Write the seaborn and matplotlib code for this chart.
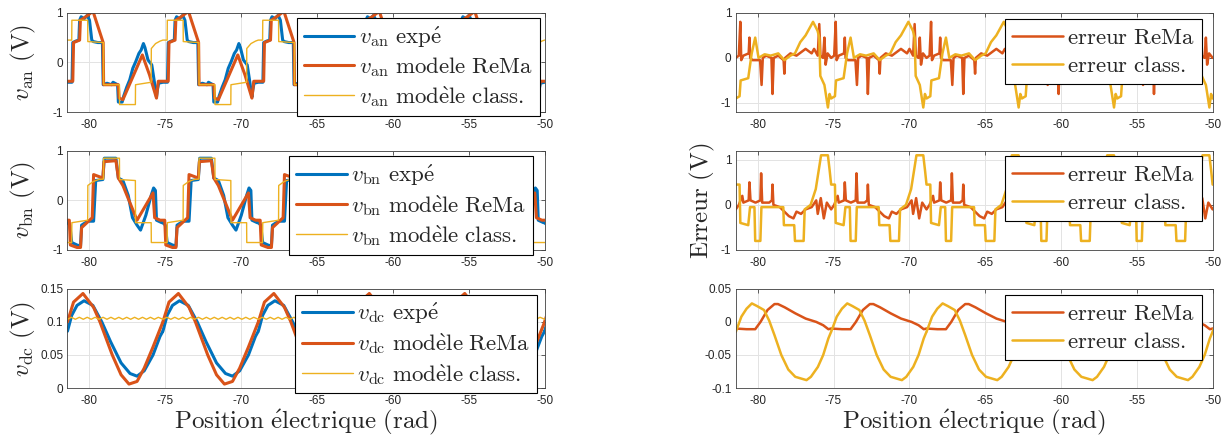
import numpy as np
import pandas as pd
import matplotlib
matplotlib.use('Agg')
import matplotlib.pyplot as plt
import seaborn as sns

periode = 2 * np.pi
x_debut = -81.44
n_periodes = 6

# ---- v_an (une période, abscisse relative u en rad) ----
u_an_expe = [0, 0.30, 0.35, 0.55, 0.75, 0.80, 0.90, 1.10, 1.30, 1.45, 1.60, 1.70, 2.00, 2.30, 2.35,
             2.60, 2.90, 3.00, 3.30, 3.35, 3.60, 3.70, 3.90, 4.10, 4.30, 4.50, 4.70, 4.85, 5.00,
             5.10, 5.30, 5.55, 5.70, 5.86, 5.92, 6.00, 6.28]
y_an_expe = [-0.40, -0.40, 0.40, 0.43, 0.45, 0.85, 0.92, 0.88, 0.95, 0.85, 0.45, 0.42, 0.40, 0.40, -0.45,
             -0.42, -0.45, -0.40, -0.45, -0.80, -0.80, -0.68, -0.50, -0.35, -0.12, 0.02, 0.18, 0.25, 0.38,
             0.30, 0.05, -0.05, -0.35, -0.70, -0.55, -0.42, -0.40]
u_an_rema = [0, 0.35, 0.40, 0.80, 0.85, 1.20, 1.68, 2.35, 2.38, 3.35, 3.40, 3.65, 4.93, 5.40, 5.86, 5.98, 6.28]
y_an_rema = [-0.38, -0.38, 0.40, 0.45, 0.85, 0.92, 1.03, 0.40, -0.45, -0.45, -0.72, -0.75, 0.15, -0.25,
             -0.72, -0.38, -0.38]
u_an_class = [0, 0.28, 0.29, 1.33, 1.34, 2.37, 2.38, 3.42, 3.43, 4.47, 4.48, 5.51, 5.52, 5.80, 6.10, 6.28]
y_an_class = [0.45, 0.45, 0.85, 0.85, 0.42, 0.40, -0.45, -0.45, -0.85, -0.85, -0.45, -0.40, 0.28, 0.38,
              0.43, 0.45]

# ---- v_bn ----
u_bn_expe = [0, 0.16, 0.28, 0.63, 0.86, 0.93, 1.33, 1.72, 1.86, 2.33, 2.42, 3.19, 3.35, 3.65, 4.00,
             4.28, 4.58, 4.81, 5.16, 5.51, 5.67, 5.79, 5.86, 6.21, 6.28]
y_bn_expe = [-0.45, -0.50, -0.85, -0.90, -0.92, -0.50, -0.42, -0.42, 0.40, 0.42, 0.85, 0.85, 0.45, 0.40,
             0.10, -0.35, -0.50, -0.60, -0.30, 0.10, 0.25, 0.20, -0.40, -0.45, -0.45]
u_bn_rema = [0, 0.12, 0.19, 0.63, 0.86, 0.93, 1.63, 1.72, 2.33, 2.40, 3.19, 3.35, 3.65, 4.58, 5.63,
             5.74, 6.10, 6.28]
y_bn_rema = [-0.40, -0.40, -0.90, -0.95, -0.95, -0.55, -0.35, 0.52, 0.45, 0.78, 0.80, 0.45, 0.30, -0.40,
             0.15, -0.35, -0.40, -0.40]
u_bn_class = [0, 0.28, 0.29, 1.33, 1.34, 1.70, 2.05, 2.37, 2.38, 3.42, 3.43, 4.47, 4.48, 5.51, 5.52, 6.28]
y_bn_class = [-0.85, -0.85, -0.45, -0.40, 0.30, 0.38, 0.42, 0.43, 0.85, 0.85, 0.42, 0.40, -0.45, -0.45,
              -0.85, -0.85]

# ---- v_dc ----
u_dc_expe = [0, 0.28, 0.63, 1.09, 1.67, 2.26, 2.84, 3.53, 4.12, 4.58, 5.05, 5.63, 6.09, 6.28]
y_dc_expe = [0.086, 0.110, 0.125, 0.132, 0.125, 0.100, 0.070, 0.038, 0.022, 0.018, 0.026, 0.050,
             0.078, 0.086]
u_dc_rema = [0, 0.40, 1.02, 1.72, 2.14, 2.95, 3.53, 4.05, 4.58, 5.05, 5.63, 6.28]
y_dc_rema = [0.100, 0.130, 0.143, 0.122, 0.100, 0.050, 0.020, 0.006, 0.010, 0.030, 0.062, 0.100]
u_dc_class = [0, 0.26, 0.52, 0.78, 1.04, 1.30, 1.56, 1.82, 2.08, 2.34, 2.60, 2.86, 3.12, 3.38, 3.64,
              3.90, 4.16, 4.42, 4.68, 4.94, 5.20, 5.46, 5.72, 5.98, 6.28]
y_dc_class = [0.104, 0.107, 0.104, 0.107, 0.104, 0.107, 0.104, 0.107, 0.104, 0.107, 0.104, 0.107, 0.104,
              0.107, 0.104, 0.107, 0.104, 0.107, 0.104, 0.107, 0.104, 0.107, 0.104, 0.107, 0.104]

# ---- erreurs sur v_an ----
u_err_an_rema = [0, 0.20, 0.30, 0.36, 0.50, 0.85, 0.90, 0.95, 1.10, 1.60, 1.70, 1.78, 2.00, 2.35, 2.42,
                 2.50, 2.80, 3.15, 3.20, 3.25, 3.60, 4.00, 4.60, 5.00, 5.16, 5.40, 5.50, 5.58, 5.75,
                 5.84, 5.92, 6.05, 6.28]
y_err_an_rema = [0.00, 0.05, 0.80, -0.05, 0.05, 0.10, 0.45, 0.00, -0.05, -0.05, -0.60, 0.00, 0.05, 0.00,
                 -0.80, 0.00, 0.05, -0.05, -0.35, 0.00, 0.10, 0.05, 0.20, 0.10, 0.20, 0.05, 0.75, 0.05,
                 0.00, 0.45, -0.15, 0.10, 0.00]
u_err_an_class = [0, 0.25, 0.32, 0.82, 1.05, 1.28, 1.50, 1.90, 2.30, 2.80, 3.20, 3.60, 3.90, 4.25, 4.60,
                  4.93, 5.09, 5.39, 5.50, 5.57, 5.84, 6.07, 6.18, 6.28]
y_err_an_class = [-0.90, -0.85, -0.50, -0.45, 0.10, 0.45, 0.00, 0.08, 0.05, 0.10, -0.05, 0.05, 0.10, 0.35,
                  0.50, 0.70, 0.80, 0.60, 0.45, -0.40, -0.60, -1.10, -0.80, -0.90]

# ---- erreurs sur v_bn ----
u_err_bn_rema = [0, 0.20, 0.43, 0.50, 0.85, 0.90, 0.97, 1.30, 1.62, 1.67, 1.74, 2.20, 2.38, 2.42, 2.48,
                 2.90, 3.20, 3.50, 3.80, 4.00, 4.30, 4.60, 5.00, 5.30, 5.40, 5.60, 5.80, 6.00, 6.28]
y_err_bn_rema = [-0.10, 0.00, 0.20, 0.05, 0.10, 0.50, 0.10, 0.05, 0.10, 0.70, 0.05, 0.05, 0.10, 0.45, 0.00,
                 -0.05, -0.15, -0.25, -0.30, -0.15, -0.20, -0.10, -0.05, 0.10, -0.20, 0.15, -0.30, 0.05,
                 -0.10]
u_err_bn_class = [0, 0.25, 0.30, 0.82, 0.94, 1.23, 1.28, 1.62, 1.69, 3.13, 3.17, 3.85, 3.90, 4.47, 4.54,
                  4.93, 5.27, 5.46, 5.62, 6.07, 6.19, 6.28]
y_err_bn_class = [0.45, 0.45, -0.40, -0.45, -0.05, -0.05, -0.80, -0.80, -0.05, -0.05, -0.45, -0.45, -0.80,
                  -0.80, -0.10, 0.00, 0.35, 0.75, 1.10, 1.10, 0.75, 0.45]

# ---- erreurs sur v_dc ----
u_err_dc_rema = [0, 0.71, 1.28, 1.63, 2.09, 2.55, 2.78, 3.23, 3.92, 4.61, 5.30, 5.76, 6.10, 6.28]
y_err_dc_rema = [-0.010, -0.011, -0.011, 0.000, 0.018, 0.027, 0.027, 0.022, 0.013, 0.005, 0.000, -0.005,
                 -0.011, -0.010]
u_err_dc_class = [0, 0.37, 0.71, 1.06, 1.40, 1.86, 2.20, 2.55, 3.00, 3.46, 3.92, 4.66, 4.95, 5.41, 5.76,
                  6.10, 6.28]
y_err_dc_class = [-0.015, 0.008, 0.020, 0.028, 0.024, 0.018, 0.002, -0.020, -0.050, -0.072, -0.083,
                  -0.088, -0.083, -0.068, -0.050, -0.025, -0.015]

# Couleurs par défaut de MATLAB
BLEU = '#0072BD'
ORANGE = '#D95319'
JAUNE = '#EDB120'


def repete(u, y):
    """Recopie la période lue sur toutes les périodes de la fenêtre."""
    u = np.asarray(u, dtype=float)
    x = np.concatenate([x_debut + u + k * periode for k in range(n_periodes)])
    return pd.DataFrame({'x': x, 'y': np.tile(np.asarray(y, dtype=float), n_periodes)})


def trace(ax, u, y, couleur, lw, label):
    df = repete(u, y)
    sns.lineplot(data=df, x='x', y='y', ax=ax, color=couleur, linewidth=lw, label=label,
                 estimator=None, sort=False)


def habille(ax, ylim, yticks, ytl):
    ax.set_xlim(-81.45, -50)
    ax.set_ylim(*ylim)
    ax.set_xticks([-80, -75, -70, -65, -60, -55, -50])
    ax.set_xticklabels(['-80', '-75', '-70', '-65', '-60', '-55', '-50'])
    ax.set_yticks(yticks)
    ax.set_yticklabels(ytl)
    ax.grid(True, color='#e3e3e3', linewidth=0.7)
    ax.tick_params(direction='in', length=3, width=0.5, top=True, right=True, labelsize=8.5,
                   colors='#262626', pad=3)
    ax.tick_params(axis='x', pad=5)
    for s in ax.spines.values():
        s.set_color('#404040')
        s.set_linewidth(0.6)
    ax.set_xlabel('')
    ax.set_ylabel('')


def legende(ax, x1, y1):
    leg = ax.legend(loc='upper right', bbox_to_anchor=(x1, y1), borderaxespad=0, fontsize=16.5,
                    frameon=True, fancybox=False, framealpha=1, edgecolor='black',
                    handlelength=2.2, handletextpad=0.2, labelspacing=0.22, borderpad=0.3)
    leg.get_frame().set_linewidth(0.8)
    leg.set_zorder(10)


sns.set_theme(style='white')
plt.rcParams['font.family'] = ['Liberation Sans', 'DejaVu Sans']
plt.rcParams['mathtext.fontset'] = 'cm'
plt.rcParams['axes.unicode_minus'] = False

fig = plt.figure(figsize=(12.24, 4.37), dpi=100)
bas = [0.7437, 0.428, 0.112]
haut = 0.227
axes_g = [fig.add_axes([0.055, b, 0.3903, haut]) for b in bas]
axes_d = [fig.add_axes([0.601, b, 0.3900, haut]) for b in bas]

LBL = 18

# colonne gauche
ax = axes_g[0]
trace(ax, u_an_expe, y_an_expe, BLEU, 2.2, r'$v_{\mathrm{an}}\ \mathrm{exp\acute{e}}$')
trace(ax, u_an_rema, y_an_rema, ORANGE, 2.2, r'$v_{\mathrm{an}}\ \mathrm{modele\ ReMa}$')
trace(ax, u_an_class, y_an_class, JAUNE, 1.0, r'$v_{\mathrm{an}}\ \mathrm{mod\grave{e}le\ class.}$')
habille(ax, (-1, 1), [-1, 0, 1], ['-1', '0', '1'])
ax.set_ylabel(r'$v_{\mathrm{an}}\ \mathrm{(V)}$', fontsize=LBL)
legende(ax, 0.989, 0.949)

ax = axes_g[1]
trace(ax, u_bn_expe, y_bn_expe, BLEU, 2.2, r'$v_{\mathrm{bn}}\ \mathrm{exp\acute{e}}$')
trace(ax, u_bn_rema, y_bn_rema, ORANGE, 2.2, r'$v_{\mathrm{bn}}\ \mathrm{mod\grave{e}le\ ReMa}$')
trace(ax, u_bn_class, y_bn_class, JAUNE, 1.0, r'$v_{\mathrm{bn}}\ \mathrm{mod\grave{e}le\ class.}$')
habille(ax, (-1, 1), [-1, 0, 1], ['-1', '0', '1'])
ax.set_ylabel(r'$v_{\mathrm{bn}}\ \mathrm{(V)}$', fontsize=LBL)
legende(ax, 0.975, 0.949)

ax = axes_g[2]
trace(ax, u_dc_expe, y_dc_expe, BLEU, 2.2, r'$v_{\mathrm{dc}}\ \mathrm{exp\acute{e}}$')
trace(ax, u_dc_rema, y_dc_rema, ORANGE, 2.2, r'$v_{\mathrm{dc}}\ \mathrm{mod\grave{e}le\ ReMa}$')
trace(ax, u_dc_class, y_dc_class, JAUNE, 1.0, r'$v_{\mathrm{dc}}\ \mathrm{mod\grave{e}le\ class.}$')
habille(ax, (0, 0.15), [0, 0.05, 0.1, 0.15], ['0', '0.05', '0.1', '0.15'])
ax.set_ylabel(r'$v_{\mathrm{dc}}\ \mathrm{(V)}$', fontsize=LBL)
ax.set_xlabel(r'$\mathrm{Position\ \acute{e}lectrique\ (rad)}$', fontsize=LBL, labelpad=1)
legende(ax, 0.984, 0.943)

for ax in axes_g:
    ax.yaxis.set_label_coords(-0.062, 0.5)

# colonne droite
ax = axes_d[0]
trace(ax, u_err_an_rema, y_err_an_rema, ORANGE, 1.8, r'$\mathrm{erreur\ ReMa}$')
trace(ax, u_err_an_class, y_err_an_class, JAUNE, 1.8, r'$\mathrm{erreur\ class.}$')
habille(ax, (-1.2, 1), [-1, 0, 1], ['-1', '0', '1'])
legende(ax, 0.977, 0.94)

ax = axes_d[1]
trace(ax, u_err_bn_rema, y_err_bn_rema, ORANGE, 1.8, r'$\mathrm{erreur\ ReMa}$')
trace(ax, u_err_bn_class, y_err_bn_class, JAUNE, 1.8, r'$\mathrm{erreur\ class.}$')
habille(ax, (-1, 1.2), [-1, 0, 1], ['-1', '0', '1'])
ax.set_ylabel(r'$\mathrm{Erreur\ (V)}$', fontsize=LBL)
ax.yaxis.set_label_coords(-0.04, 0.5)
legende(ax, 0.977, 0.943)

ax = axes_d[2]
trace(ax, u_err_dc_rema, y_err_dc_rema, ORANGE, 1.8, r'$\mathrm{erreur\ ReMa}$')
trace(ax, u_err_dc_class, y_err_dc_class, JAUNE, 1.8, r'$\mathrm{erreur\ class.}$')
habille(ax, (-0.1, 0.05), [-0.1, -0.05, 0, 0.05], ['-0.1', '-0.05', '0', '0.05'])
ax.set_xlabel(r'$\mathrm{Position\ \acute{e}lectrique\ (rad)}$', fontsize=LBL, labelpad=1)
legende(ax, 0.977, 0.936)

fig.savefig('out.png', dpi=100)
